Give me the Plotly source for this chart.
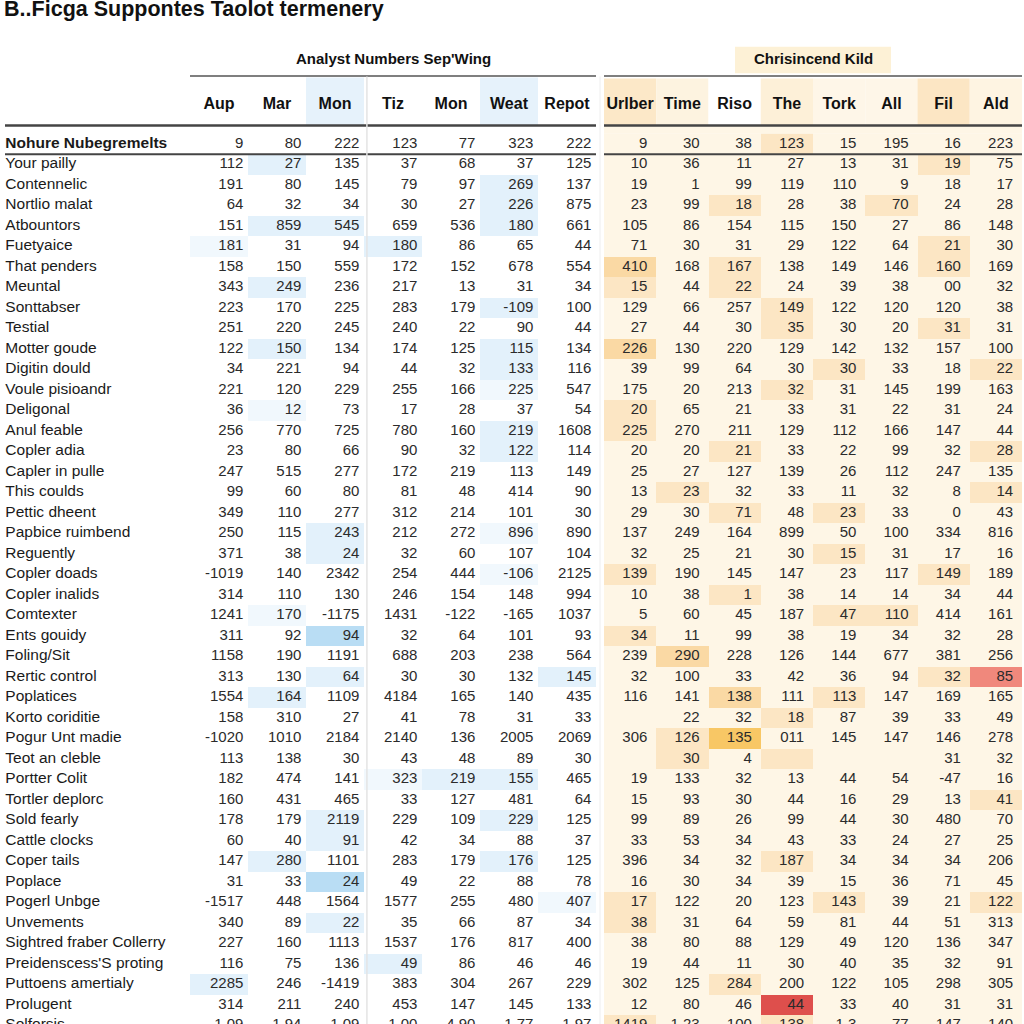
import plotly.graph_objects as go

title_text = "B..Ficga Suppontes Taolot termenery"
left_group = "Analyst Numbers Sep'Wing"
right_group = "Chrisincend Kild"

left_cols = ["Aup", "Mar", "Mon", "Tiz", "Mon", "Weat", "Repot"]
right_cols = ["Urlber", "Time", "Riso", "The", "Tork", "All", "Fil", "Ald"]

row_labels = [
    "Nohure Nubegremelts", "Your pailly", "Contennelic", "Nortlio malat", "Atbountors",
    "Fuetyaice", "That penders", "Meuntal", "Sonttabser", "Testial", "Motter goude",
    "Digitin dould", "Voule pisioandr", "Deligonal", "Anul feable", "Copler adia",
    "Capler in pulle", "This coulds", "Pettic dheent", "Papbice ruimbend", "Reguently",
    "Copler doads", "Copler inalids", "Comtexter", "Ents gouidy", "Foling/Sit",
    "Rertic control", "Poplatices", "Korto coriditie", "Pogur Unt madie", "Teot an cleble",
    "Portter Colit", "Tortler deplorc", "Sold fearly", "Cattle clocks", "Coper tails",
    "Poplace", "Pogerl Unbge", "Unvements", "Sightred fraber Collerry",
    "Preidenscess'S proting", "Puttoens amertialy", "Prolugent", "Solforsis",
]

left_values = [
    ["9", "80", "222", "123", "77", "323", "222"],
    ["112", "27", "135", "37", "68", "37", "125"],
    ["191", "80", "145", "79", "97", "269", "137"],
    ["64", "32", "34", "30", "27", "226", "875"],
    ["151", "859", "545", "659", "536", "180", "661"],
    ["181", "31", "94", "180", "86", "65", "44"],
    ["158", "150", "559", "172", "152", "678", "554"],
    ["343", "249", "236", "217", "13", "31", "34"],
    ["223", "170", "225", "283", "179", "-109", "100"],
    ["251", "220", "245", "240", "22", "90", "44"],
    ["122", "150", "134", "174", "125", "115", "134"],
    ["34", "221", "94", "44", "32", "133", "116"],
    ["221", "120", "229", "255", "166", "225", "547"],
    ["36", "12", "73", "17", "28", "37", "54"],
    ["256", "770", "725", "780", "160", "219", "1608"],
    ["23", "80", "66", "90", "32", "122", "114"],
    ["247", "515", "277", "172", "219", "113", "149"],
    ["99", "60", "80", "81", "48", "414", "90"],
    ["349", "110", "277", "312", "214", "101", "30"],
    ["250", "115", "243", "212", "272", "896", "890"],
    ["371", "38", "24", "32", "60", "107", "104"],
    ["-1019", "140", "2342", "254", "444", "-106", "2125"],
    ["314", "110", "130", "246", "154", "148", "994"],
    ["1241", "170", "-1175", "1431", "-122", "-165", "1037"],
    ["311", "92", "94", "32", "64", "101", "93"],
    ["1158", "190", "1191", "688", "203", "238", "564"],
    ["313", "130", "64", "30", "30", "132", "145"],
    ["1554", "164", "1109", "4184", "165", "140", "435"],
    ["158", "310", "27", "41", "78", "31", "33"],
    ["-1020", "1010", "2184", "2140", "136", "2005", "2069"],
    ["113", "138", "30", "43", "48", "89", "30"],
    ["182", "474", "141", "323", "219", "155", "465"],
    ["160", "431", "465", "33", "127", "481", "64"],
    ["178", "179", "2119", "229", "109", "229", "125"],
    ["60", "40", "91", "42", "34", "88", "37"],
    ["147", "280", "1101", "283", "179", "176", "125"],
    ["31", "33", "24", "49", "22", "88", "78"],
    ["-1517", "448", "1564", "1577", "255", "480", "407"],
    ["340", "89", "22", "35", "66", "87", "34"],
    ["227", "160", "1113", "1537", "176", "817", "400"],
    ["116", "75", "136", "49", "86", "46", "46"],
    ["2285", "246", "-1419", "383", "304", "267", "229"],
    ["314", "211", "240", "453", "147", "145", "133"],
    ["1.09", "1.94", "1.09", "1.00", "4.90", "1.77", "1.97"],
]

right_values = [
    ["9", "30", "38", "123", "15", "195", "16", "223"],
    ["10", "36", "11", "27", "13", "31", "19", "75"],
    ["19", "1", "99", "119", "110", "9", "18", "17"],
    ["23", "99", "18", "28", "38", "70", "24", "28"],
    ["105", "86", "154", "115", "150", "27", "86", "148"],
    ["71", "30", "31", "29", "122", "64", "21", "30"],
    ["410", "168", "167", "138", "149", "146", "160", "169"],
    ["15", "44", "22", "24", "39", "38", "00", "32"],
    ["129", "66", "257", "149", "122", "120", "120", "38"],
    ["27", "44", "30", "35", "30", "20", "31", "31"],
    ["226", "130", "220", "129", "142", "132", "157", "100"],
    ["39", "99", "64", "30", "30", "33", "18", "22"],
    ["175", "20", "213", "32", "31", "145", "199", "163"],
    ["20", "65", "21", "33", "31", "22", "31", "24"],
    ["225", "270", "211", "129", "112", "166", "147", "44"],
    ["20", "20", "21", "33", "22", "99", "32", "28"],
    ["25", "27", "127", "139", "26", "112", "247", "135"],
    ["13", "23", "32", "33", "11", "32", "8", "14"],
    ["29", "30", "71", "48", "23", "33", "0", "43"],
    ["137", "249", "164", "899", "50", "100", "334", "816"],
    ["32", "25", "21", "30", "15", "31", "17", "16"],
    ["139", "190", "145", "147", "23", "117", "149", "189"],
    ["10", "38", "1", "38", "14", "14", "34", "44"],
    ["5", "60", "45", "187", "47", "110", "414", "161"],
    ["34", "11", "99", "38", "19", "34", "32", "28"],
    ["239", "290", "228", "126", "144", "677", "381", "256"],
    ["32", "100", "33", "42", "36", "94", "32", "85"],
    ["116", "141", "138", "111", "113", "147", "169", "165"],
    ["", "22", "32", "18", "87", "39", "33", "49"],
    ["306", "126", "135", "011", "145", "147", "146", "278"],
    ["", "30", "4", "", "", "", "31", "32"],
    ["19", "133", "32", "13", "44", "54", "-47", "16"],
    ["15", "93", "30", "44", "16", "29", "13", "41"],
    ["99", "89", "26", "99", "44", "30", "480", "70"],
    ["33", "53", "34", "43", "33", "24", "27", "25"],
    ["396", "34", "32", "187", "34", "34", "34", "206"],
    ["16", "30", "34", "39", "15", "36", "71", "45"],
    ["17", "122", "20", "123", "143", "39", "21", "122"],
    ["38", "31", "64", "59", "81", "44", "51", "313"],
    ["38", "80", "88", "129", "49", "120", "136", "347"],
    ["19", "44", "11", "30", "40", "35", "32", "91"],
    ["302", "125", "284", "200", "122", "105", "298", "305"],
    ["12", "80", "46", "44", "33", "40", "31", "31"],
    ["1419", "1.23", "100", "138", "1.3", "77", "147", "140"],
]

# cell highlight levels (left: 0 none, 1 light blue, 2 mid blue, 3 faint blue)
left_marks = [
    "0000000", "0100000", "0000010", "0000010", "0110010", "3001000", "0000000",
    "0100000", "0000010", "0000000", "0100010", "0000010", "0000030", "0300000",
    "0000010", "0000010", "0000000", "0000000", "0000000", "0010030", "0010000",
    "0000030", "0000000", "0300000", "0020000", "0000000", "0010001", "0100000",
    "0000000", "0000000", "0000000", "0003110", "0000000", "0010010", "0010000",
    "0100010", "0020000", "0000003", "0010000", "0000000", "0001000", "1000000",
    "0000000", "0000000",
]
# right: 0 cream, 1 peach, 2 deep peach, 3 orange, 4 salmon, 5 red
right_marks = [
    "00010000", "00000010", "00000000", "00100100", "00000000", "00000010", "20100010",
    "10100000", "00010000", "00010010", "20000000", "00001001", "00010000", "10000000",
    "10000000", "00100001", "00000000", "01000001", "00101000", "00000000", "00001000",
    "10000010", "00100000", "00001100", "10000000", "02000000", "00000014", "00201000",
    "00010000", "01300000", "01010000", "00000000", "00000001", "00000000", "00000000",
    "00010000", "00000000", "10001001", "10000000", "00000000", "00000000", "00100000",
    "00050000", "10010000",
]

left_colors = ["#ffffff", "#e3f1fb", "#b9ddf4", "#f1f8fd"]
right_colors = ["#fef6e6", "#fce6c4", "#fad9a4", "#f8c765", "#f0887c", "#de4f4c"]

FONT = "Arial, Liberation Sans, sans-serif"
TXT = "#2b2b2b"
n_rows = len(row_labels)


def scale(colors):
    n = len(colors) - 1
    return [[i / n, c] for i, c in enumerate(colors)]


fig = go.Figure()

fig.add_trace(go.Heatmap(
    z=[[int(ch) for ch in r] for r in left_marks],
    x=list(range(len(left_cols))),
    y=list(range(n_rows)),
    colorscale=scale(left_colors),
    zmin=0,
    zmax=len(left_colors) - 1,
    showscale=False,
    hoverinfo="skip",
    xaxis="x2",
    yaxis="y",
))
fig.add_trace(go.Heatmap(
    z=[[int(ch) for ch in r] for r in right_marks],
    x=list(range(len(right_cols))),
    y=list(range(n_rows)),
    colorscale=scale(right_colors),
    zmin=0,
    zmax=len(right_colors) - 1,
    showscale=False,
    hoverinfo="skip",
    xaxis="x3",
    yaxis="y",
))

# row labels
fig.add_trace(go.Scatter(
    x=[0.028] * n_rows,
    y=list(range(n_rows)),
    text=[f"<b>{lab}</b>" if i == 0 else lab for i, lab in enumerate(row_labels)],
    mode="text",
    textposition="middle right",
    textfont=dict(family=FONT, size=15.5, color="#1a1a1a"),
    hoverinfo="skip",
    xaxis="x",
    yaxis="y",
))

# cell values
for vals, ax, off in [(left_values, "x2", 0.42), (right_values, "x3", 0.33)]:
    xs, ys, ts = [], [], []
    for r, row in enumerate(vals):
        for c, v in enumerate(row):
            xs.append(c + off)
            ys.append(r)
            ts.append(v)
    fig.add_trace(go.Scatter(
        x=xs,
        y=ys,
        text=ts,
        mode="text",
        textposition="middle left",
        textfont=dict(family=FONT, size=15, color=TXT),
        hoverinfo="skip",
        xaxis=ax,
        yaxis="y",
    ))

# column headers
HEAD_Y = -1.9
for cols, ax in [(left_cols, "x2"), (right_cols, "x3")]:
    fig.add_trace(go.Scatter(
        x=list(range(len(cols))),
        y=[HEAD_Y] * len(cols),
        text=[f"<b>{c}</b>" for c in cols],
        mode="text",
        textposition="middle center",
        textfont=dict(family=FONT, size=16, color="#111111"),
        hoverinfo="skip",
        xaxis=ax,
        yaxis="y",
    ))

L0, L1, R0, R1 = 190 / 1024, 596 / 1024, 604 / 1024, 1022 / 1024

shapes = []
# header backgrounds
for c in (2, 5):
    shapes.append(dict(type="rect", xref="x2", yref="y", x0=c - 0.5, x1=c + 0.5,
                       y0=-3.25, y1=-0.9, fillcolor="#e6f2fb", line_width=0, layer="below"))
right_head_bg = ["#fce8c8", "#fdf3e0", "#ffffff", "#fdf0d8", "#fef6e8", "#fef6e8", "#fce6c4", "#fef4e2"]
for c, col in enumerate(right_head_bg):
    shapes.append(dict(type="rect", xref="x3", yref="y", x0=c - 0.5, x1=c + 0.5,
                       y0=-3.2, y1=-0.9, fillcolor=col, line_width=0, layer="below"))
shapes.append(dict(type="rect", xref="x3", yref="y", x0=-0.5, x1=len(right_cols) - 0.5,
                   y0=-0.9, y1=-0.5, fillcolor=right_colors[0], line_width=0, layer="below"))
# group header box on the right
shapes.append(dict(type="rect", xref="paper", yref="y", x0=735 / 1024, x1=891 / 1024,
                   y0=-4.75, y1=-3.45, fillcolor="#fdf1d6", line_width=0, layer="below"))
# rules
for x0, x1 in [(L0, L1), (R0, R1)]:
    shapes.append(dict(type="line", xref="paper", yref="y", x0=x0, x1=x1, y0=-3.32, y1=-3.32,
                       line=dict(color="#555555", width=1.5)))
for x0, x1 in [(5 / 1024, L1), (R0, R1)]:
    shapes.append(dict(type="line", xref="paper", yref="y", x0=x0, x1=x1, y0=-0.9, y1=-0.9,
                       line=dict(color="#444444", width=2.5)))
    shapes.append(dict(type="line", xref="paper", yref="y", x0=x0, x1=x1, y0=0.5, y1=0.5,
                       line=dict(color="#444444", width=2)))
shapes.append(dict(type="line", xref="x2", yref="y", x0=2.55, x1=2.55, y0=-3.3, y1=44,
                   line=dict(color="#e4e4e4", width=1.5)))
shapes.append(dict(type="line", xref="paper", yref="y", x0=600 / 1024, x1=600 / 1024, y0=-3.3, y1=44,
                   line=dict(color="#eeeeee", width=1)))

annotations = [
    dict(text=f"<b>{left_group}</b>", xref="paper", yref="y", x=(L0 + L1) / 2, y=-4.15,
         xanchor="center", showarrow=False, font=dict(family=FONT, size=15, color="#111111")),
    dict(text=f"<b>{right_group}</b>", xref="paper", yref="y", x=(R0 + R1) / 2, y=-4.15,
         xanchor="center", showarrow=False, font=dict(family=FONT, size=15, color="#111111")),
]

hidden = dict(showgrid=False, zeroline=False, showticklabels=False, ticks="", fixedrange=True)
fig.update_layout(
    width=1024,
    height=1024,
    margin=dict(l=0, r=0, t=40, b=0),
    paper_bgcolor="#ffffff",
    plot_bgcolor="rgba(0,0,0,0)",
    showlegend=False,
    title=dict(text=f"<b>{title_text}</b>", x=0.004, xanchor="left", y=0.999, yanchor="top",
               font=dict(family=FONT, size=21.5, color="#111111"), pad=dict(t=0, l=0)),
    xaxis=dict(domain=[0, L0], range=[0, 1], **hidden),
    xaxis2=dict(domain=[L0, L1], range=[-0.5, len(left_cols) - 0.5], anchor="y", **hidden),
    xaxis3=dict(domain=[R0, R1], range=[-0.5, len(right_cols) - 0.5], anchor="y", **hidden),
    yaxis=dict(range=[42.925, -5.075], **hidden),
    shapes=shapes,
    annotations=annotations,
)

# drop the browser's default 8px page margin so the figure sits at the window corner
fig.write_html(
    "out.html",
    config={"displayModeBar": False},
    post_script="document.body.style.margin='0';",
)
